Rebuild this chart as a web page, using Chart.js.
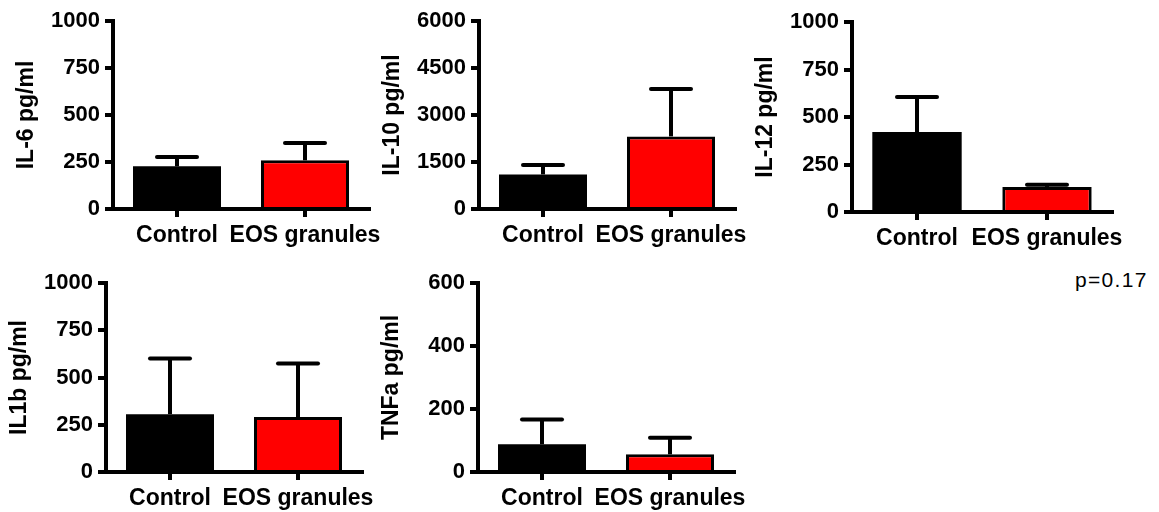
<!DOCTYPE html>
<html>
<head>
<meta charset="utf-8">
<script src="https://cdn.jsdelivr.net/npm/chart.js@4.4.0/dist/chart.umd.min.js"></script>
<style>
  body { margin: 0; background: #fff; }
  #page { position: relative; width: 1159px; height: 512px; overflow: hidden; }
  .panel { position: absolute; }
  #pval {
    position: absolute; left: 1075px; top: 269px;
    font: 21px "Liberation Sans", Arial, sans-serif; line-height: 21px;
    letter-spacing: 1.3px; color: #000;
  }
</style>
</head>
<body>
<div id="page">
  <div id="pval">p=0.17</div>
</div>
<script>
// data (mean and upper error)
const categories = ['Control', 'EOS granules'];
const il6Mean = [227, 259];
const il6Err = [50, 92];
const il10Mean = [1104, 2317];
const il10Err = [300, 1513];
const il12Mean = [421, 132];
const il12Err = [184, 12];
const il1bMean = [306, 291];
const il1bErr = [295, 283];
const tnfaMean = [88, 56];
const tnfaErr = [79, 53];

const yTitles = ['IL-6 pg/ml', 'IL-10 pg/ml', 'IL-12 pg/ml', 'IL1b pg/ml', 'TNFa pg/ml'];
const yMax = [1000, 6000, 1000, 1000, 600];
const yStep = [250, 1500, 250, 250, 200];
const barColors = ['#000000', '#ff0000'];

const means = [il6Mean, il10Mean, il12Mean, il1bMean, tnfaMean];
const errs = [il6Err, il10Err, il12Err, il1bErr, tnfaErr];

// where each plot sits on the page: axis x, canvas top, plot top, plot bottom, plot right
const boxes = [
  { axis: 113, ctop: 0,   top: 21,  bottom: 209, right: 369 },
  { axis: 479, ctop: 0,   top: 21,  bottom: 209, right: 735 },
  { axis: 852, ctop: 0,   top: 22,  bottom: 212, right: 1112 },
  { axis: 106, ctop: 262, top: 283, bottom: 472, right: 362 },
  { axis: 478, ctop: 262, top: 283, bottom: 472, right: 734 }
];

const FONT = '"Liberation Sans", Arial, sans-serif';
const Y_WIDTH = 100;
const PAD_RIGHT = 30;

// upper error bars (GraphPad style)
const errorBars = {
  id: 'errorBars',
  afterDatasetsDraw(chart) {
    const ds = chart.data.datasets[0];
    const meta = chart.getDatasetMeta(0);
    const y = chart.scales.y;
    const ctx = chart.ctx;
    ctx.save();
    ctx.strokeStyle = '#000';
    ctx.lineWidth = 4;
    meta.data.forEach((bar, i) => {
      const top = y.getPixelForValue(ds.data[i] + ds.err[i]);
      ctx.beginPath();
      ctx.lineCap = 'butt';
      ctx.moveTo(bar.x, bar.y);
      ctx.lineTo(bar.x, top);
      ctx.stroke();
      ctx.beginPath();
      ctx.lineCap = 'round';
      ctx.moveTo(bar.x - 20, top);
      ctx.lineTo(bar.x + 20, top);
      ctx.stroke();
    });
    ctx.restore();
  }
};

const page = document.getElementById('page');

boxes.forEach((b, k) => {
  const left = b.axis - Y_WIDTH;
  const w = b.right - left + PAD_RIGHT;
  const h = k < 3 ? 262 : 250;
  const div = document.createElement('div');
  div.className = 'panel';
  div.style.left = left + 'px';
  div.style.top = b.ctop + 'px';
  const canvas = document.createElement('canvas');
  canvas.width = w;
  canvas.height = h;
  canvas.style.width = w + 'px';
  canvas.style.height = h + 'px';
  div.appendChild(canvas);
  page.appendChild(div);

  const xHeight = h - (b.bottom - b.ctop);

  new Chart(canvas, {
    type: 'bar',
    data: {
      labels: categories,
      datasets: [{
        data: means[k],
        err: errs[k],
        backgroundColor: barColors,
        borderColor: '#000',
        // black bar needs no outline, it only leaves a grey seam
        borderWidth: [0, 3],
        borderSkipped: 'bottom',
        inflateAmount: 0,
        categoryPercentage: 1,
        barPercentage: 0.6875
      }]
    },
    options: {
      responsive: false,
      animation: false,
      layout: { padding: { top: b.top - b.ctop, right: PAD_RIGHT, left: 0, bottom: 0 } },
      plugins: { legend: { display: false }, tooltip: { enabled: false } },
      scales: {
        x: {
          afterFit(scale) { scale.height = xHeight; },
          grid: { offset: false, drawOnChartArea: false, drawTicks: true, tickLength: 8, color: '#000', lineWidth: 4 },
          border: { display: true, color: '#000', width: 4 },
          ticks: {
            color: '#000', padding: 5, autoSkip: false, maxRotation: 0, minRotation: 0,
            font: { family: FONT, size: 23, weight: 'bold' }
          }
        },
        y: {
          min: 0,
          max: yMax[k],
          afterFit(scale) { scale.width = Y_WIDTH; },
          grid: { drawOnChartArea: false, drawTicks: true, tickLength: 8, color: '#000', lineWidth: 4 },
          border: { display: true, color: '#000', width: 4 },
          ticks: {
            stepSize: yStep[k], color: '#000', padding: 5,
            callback: v => String(v),
            font: { family: FONT, size: 22, weight: 'bold' }
          },
          title: {
            display: true, text: yTitles[k], color: '#000', padding: 0,
            font: { family: FONT, size: 23, weight: 'bold' }
          }
        }
      }
    },
    plugins: [errorBars]
  });
});
</script>
</body>
</html>
